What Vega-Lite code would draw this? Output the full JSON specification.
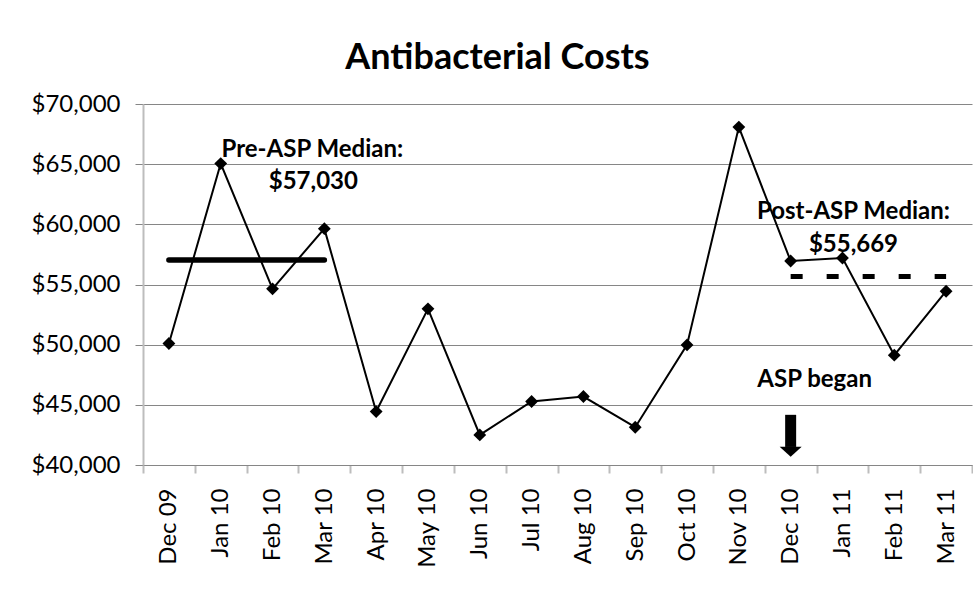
{
  "$schema": "https://vega.github.io/schema/vega-lite/v6.json",
  "autosize": "none",
  "width": 829,
  "height": 361,
  "padding": {"left": 143, "top": 104, "right": 1, "bottom": 132},
  "background": "white",
  "title": {
    "text": "Antibacterial Costs",
    "font": "Lato",
    "fontSize": 36,
    "fontWeight": "bold",
    "color": "#000000",
    "anchor": "middle",
    "frame": "group",
    "dx": -60,
    "baseline": "alphabetic",
    "offset": -13
  },
  "config": {
    "view": {"stroke": null},
    "axis": {"labelFont": "Lato", "labelFontSize": 24, "labelColor": "#000000", "titleFont": "Lato"}
  },
  "datasets": {
    "costs": [
      {"month": "Dec 09", "cost": 50100},
      {"month": "Jan 10", "cost": 65050},
      {"month": "Feb 10", "cost": 54640},
      {"month": "Mar 10", "cost": 59640},
      {"month": "Apr 10", "cost": 44440},
      {"month": "May 10", "cost": 52980},
      {"month": "Jun 10", "cost": 42500},
      {"month": "Jul 10", "cost": 45280},
      {"month": "Aug 10", "cost": 45690},
      {"month": "Sep 10", "cost": 43140},
      {"month": "Oct 10", "cost": 49980},
      {"month": "Nov 10", "cost": 68080},
      {"month": "Dec 10", "cost": 56950},
      {"month": "Jan 11", "cost": 57200},
      {"month": "Feb 11", "cost": 49130},
      {"month": "Mar 11", "cost": 54440}
    ],
    "preMedian": [
      {"month": "Dec 09", "cost": 57030},
      {"month": "Mar 10", "cost": 57030}
    ],
    "postMedian": [
      {"month": "Dec 10", "cost": 55669},
      {"month": "Mar 11", "cost": 55669}
    ],
    "aspStart": [
      {"month": "Dec 10", "top": 44170, "bottom": 41500, "head": 41100}
    ]
  },
  "encoding": {
    "x": {
      "field": "month",
      "type": "nominal",
      "sort": null,
      "scale": {
        "type": "band",
        "paddingInner": 0,
        "paddingOuter": 0,
        "domain": ["Dec 09", "Jan 10", "Feb 10", "Mar 10", "Apr 10", "May 10", "Jun 10", "Jul 10", "Aug 10", "Sep 10", "Oct 10", "Nov 10", "Dec 10", "Jan 11", "Feb 11", "Mar 11"]
      },
      "axis": {
        "title": null,
        "labelAngle": -90,
        "labelAlign": "right",
        "labelBaseline": "middle",
        "labelPadding": 15,
        "tickBand": "extent",
        "tickColor": "#bdbdbd",
        "tickWidth": 2,
        "tickSize": 8,
        "domainColor": "#868686",
        "domainWidth": 1,
        "grid": false
      }
    }
  },
  "layer": [
    {
      "data": {"name": "costs"},
      "mark": {"type": "line", "color": "#000000", "strokeWidth": 2},
      "encoding": {
        "y": {
          "field": "cost",
          "type": "quantitative",
          "scale": {"domain": [40000, 70000], "nice": false, "zero": false},
          "axis": {
            "title": null,
            "values": [40000, 45000, 50000, 55000, 60000, 65000, 70000],
            "format": "$,.0f",
            "grid": true,
            "gridColor": "#868686",
            "gridWidth": 1,
            "domainColor": "#bdbdbd",
            "domainWidth": 2,
            "tickColor": "#868686",
            "tickSize": 8,
            "labelPadding": 15
          }
        }
      }
    },
    {
      "data": {"name": "costs"},
      "mark": {"type": "point", "shape": "diamond", "filled": true, "color": "#000000", "opacity": 1, "size": 165},
      "encoding": {"y": {"field": "cost", "type": "quantitative"}}
    },
    {
      "data": {"name": "preMedian"},
      "mark": {"type": "line", "color": "#000000", "strokeWidth": 5.5, "strokeCap": "round"},
      "encoding": {"y": {"field": "cost", "type": "quantitative"}}
    },
    {
      "data": {"name": "postMedian"},
      "mark": {"type": "line", "color": "#000000", "strokeWidth": 5, "strokeCap": "butt", "strokeDash": [12, 24]},
      "encoding": {"y": {"field": "cost", "type": "quantitative"}}
    },
    {
      "data": {"name": "aspStart"},
      "mark": {"type": "rule", "color": "#000000", "strokeWidth": 11, "strokeCap": "butt"},
      "encoding": {
        "y": {"field": "top", "type": "quantitative"},
        "y2": {"field": "bottom"}
      }
    },
    {
      "data": {"name": "aspStart"},
      "mark": {"type": "point", "shape": "M-1,-0.45L1,-0.45L0,0.45Z", "filled": true, "color": "#000000", "opacity": 1, "size": 484},
      "encoding": {"y": {"field": "head", "type": "quantitative"}}
    },
    {
      "data": {"values": [{"month": "Mar 10", "cost": 66140, "note": "Pre-ASP Median:"}]},
      "mark": {"type": "text", "font": "Lato", "fontSize": 24, "fontWeight": "bold", "color": "#000000", "align": "center", "baseline": "middle", "dx": -12},
      "encoding": {"y": {"field": "cost", "type": "quantitative"}, "text": {"field": "note"}}
    },
    {
      "data": {"values": [{"month": "Mar 10", "cost": 63510, "note": "$57,030"}]},
      "mark": {"type": "text", "font": "Lato", "fontSize": 24, "fontWeight": "bold", "color": "#000000", "align": "center", "baseline": "middle", "dx": -11},
      "encoding": {"y": {"field": "cost", "type": "quantitative"}, "text": {"field": "note"}}
    },
    {
      "data": {"values": [{"month": "Jan 11", "cost": 61000, "note": "Post-ASP Median:"}]},
      "mark": {"type": "text", "font": "Lato", "fontSize": 24, "fontWeight": "bold", "color": "#000000", "align": "center", "baseline": "middle", "dx": 11},
      "encoding": {"y": {"field": "cost", "type": "quantitative"}, "text": {"field": "note"}}
    },
    {
      "data": {"values": [{"month": "Jan 11", "cost": 58260, "note": "$55,669"}]},
      "mark": {"type": "text", "font": "Lato", "fontSize": 24, "fontWeight": "bold", "color": "#000000", "align": "center", "baseline": "middle", "dx": 11},
      "encoding": {"y": {"field": "cost", "type": "quantitative"}, "text": {"field": "note"}}
    },
    {
      "data": {"values": [{"month": "Dec 10", "cost": 47050, "note": "ASP began"}]},
      "mark": {"type": "text", "font": "Lato", "fontSize": 24, "fontWeight": "bold", "color": "#000000", "align": "center", "baseline": "middle", "dx": 24},
      "encoding": {"y": {"field": "cost", "type": "quantitative"}, "text": {"field": "note"}}
    }
  ]
}
